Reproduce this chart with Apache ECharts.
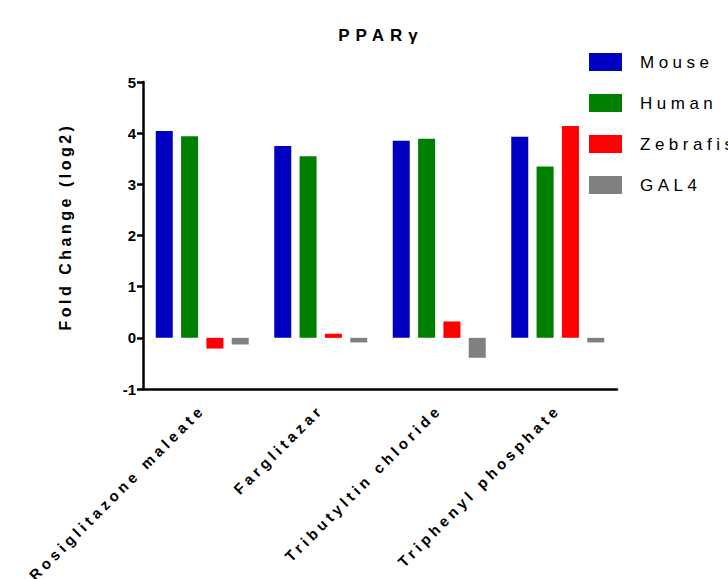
<!DOCTYPE html>
<html><head><meta charset="utf-8">
<script src="https://cdn.jsdelivr.net/npm/echarts@6/dist/echarts.min.js"></script>
<style>html,body{margin:0;padding:0;background:#fff}#c{width:728px;height:579px}
#c text{letter-spacing:4px}</style>
</head><body><div id="c"></div>
<script>
const categories = ['Rosiglitazone maleate', 'Farglitazar', 'Tributyltin chloride', 'Triphenyl phosphate'];
const seriesNames = ['Mouse', 'Human', 'Zebrafish', 'GAL4'];
const mouse = [4.04, 3.75, 3.85, 3.93];
const human = [3.94, 3.55, 3.89, 3.35];
const zebrafish = [-0.21, 0.08, 0.32, 4.14];
const gal4 = [-0.13, -0.09, -0.39, -0.09];
const yTicks = [-1, 0, 1, 2, 3, 4, 5];
const colors = ['#0000C0', '#008000', '#FF0000', '#808080'];

const font = 'Liberation Sans, Arial, sans-serif';
const allData = [mouse, human, zebrafish, gal4];
const chart = echarts.init(document.getElementById('c'), null, {renderer: 'svg'});
chart.setOption({
  animation: false,
  title: {text: 'PPARγ', left: 376, top: 22, textAlign: 'center',
    textStyle: {fontFamily: font, fontSize: 17, fontWeight: 'bold', color: '#000'}},
  legend: {orient: 'vertical', left: 589, top: 53, padding: 0, itemWidth: 33, itemHeight: 18, itemGap: 23,
    icon: 'rect', itemStyle: {borderWidth: 0},
    textStyle: {fontFamily: font, fontSize: 17, color: '#000', padding: [0, 0, 0, 13]},
    data: seriesNames},
  grid: {left: 143, right: 111, top: 82, bottom: 190},
  xAxis: {type: 'category', data: categories,
    axisLine: {onZero: false, lineStyle: {color: '#000', width: 2.5}},
    axisTick: {alignWithLabel: true, length: 6, lineStyle: {color: '#000', width: 2.5}},
    axisLabel: {rotate: 45, margin: 18, interval: 0, fontFamily: font, fontSize: 15, fontWeight: 'bold', color: '#000'}},
  yAxis: {type: 'value', min: yTicks[0], max: yTicks[yTicks.length - 1], interval: 1,
    name: 'Fold Change (log2)', nameLocation: 'middle', nameGap: 70,
    nameTextStyle: {fontFamily: font, fontSize: 16, fontWeight: 'bold', color: '#000', padding: [0, 0, 0, 18]},
    splitLine: {show: false},
    axisLine: {show: true, lineStyle: {color: '#000', width: 2.5}},
    axisTick: {show: true, length: 6, lineStyle: {color: '#000', width: 2.5}},
    axisLabel: {margin: 7, fontFamily: font, fontSize: 15, fontWeight: 'bold', color: '#000'}},
  series: seriesNames.map((n, i) => ({
    name: n, type: 'bar', data: allData[i], barWidth: 17, barGap: '49%',
    itemStyle: {color: colors[i]}
  }))
});
function spacing() {
  const map = {'PPARγ': '6px', 'Fold Change (log2)': '3.5px'};
  seriesNames.forEach(s => map[s] = '4.5px');
  yTicks.forEach(v => map[String(v)] = '0px');
  document.querySelectorAll('#c text').forEach(t => {
    const k = t.textContent.trim();
    if (map[k] !== undefined) t.style.letterSpacing = map[k];
  });
}
spacing();
new MutationObserver(spacing).observe(document.getElementById('c'), {childList: true, subtree: true});
setTimeout(spacing, 50);
</script></body></html>
